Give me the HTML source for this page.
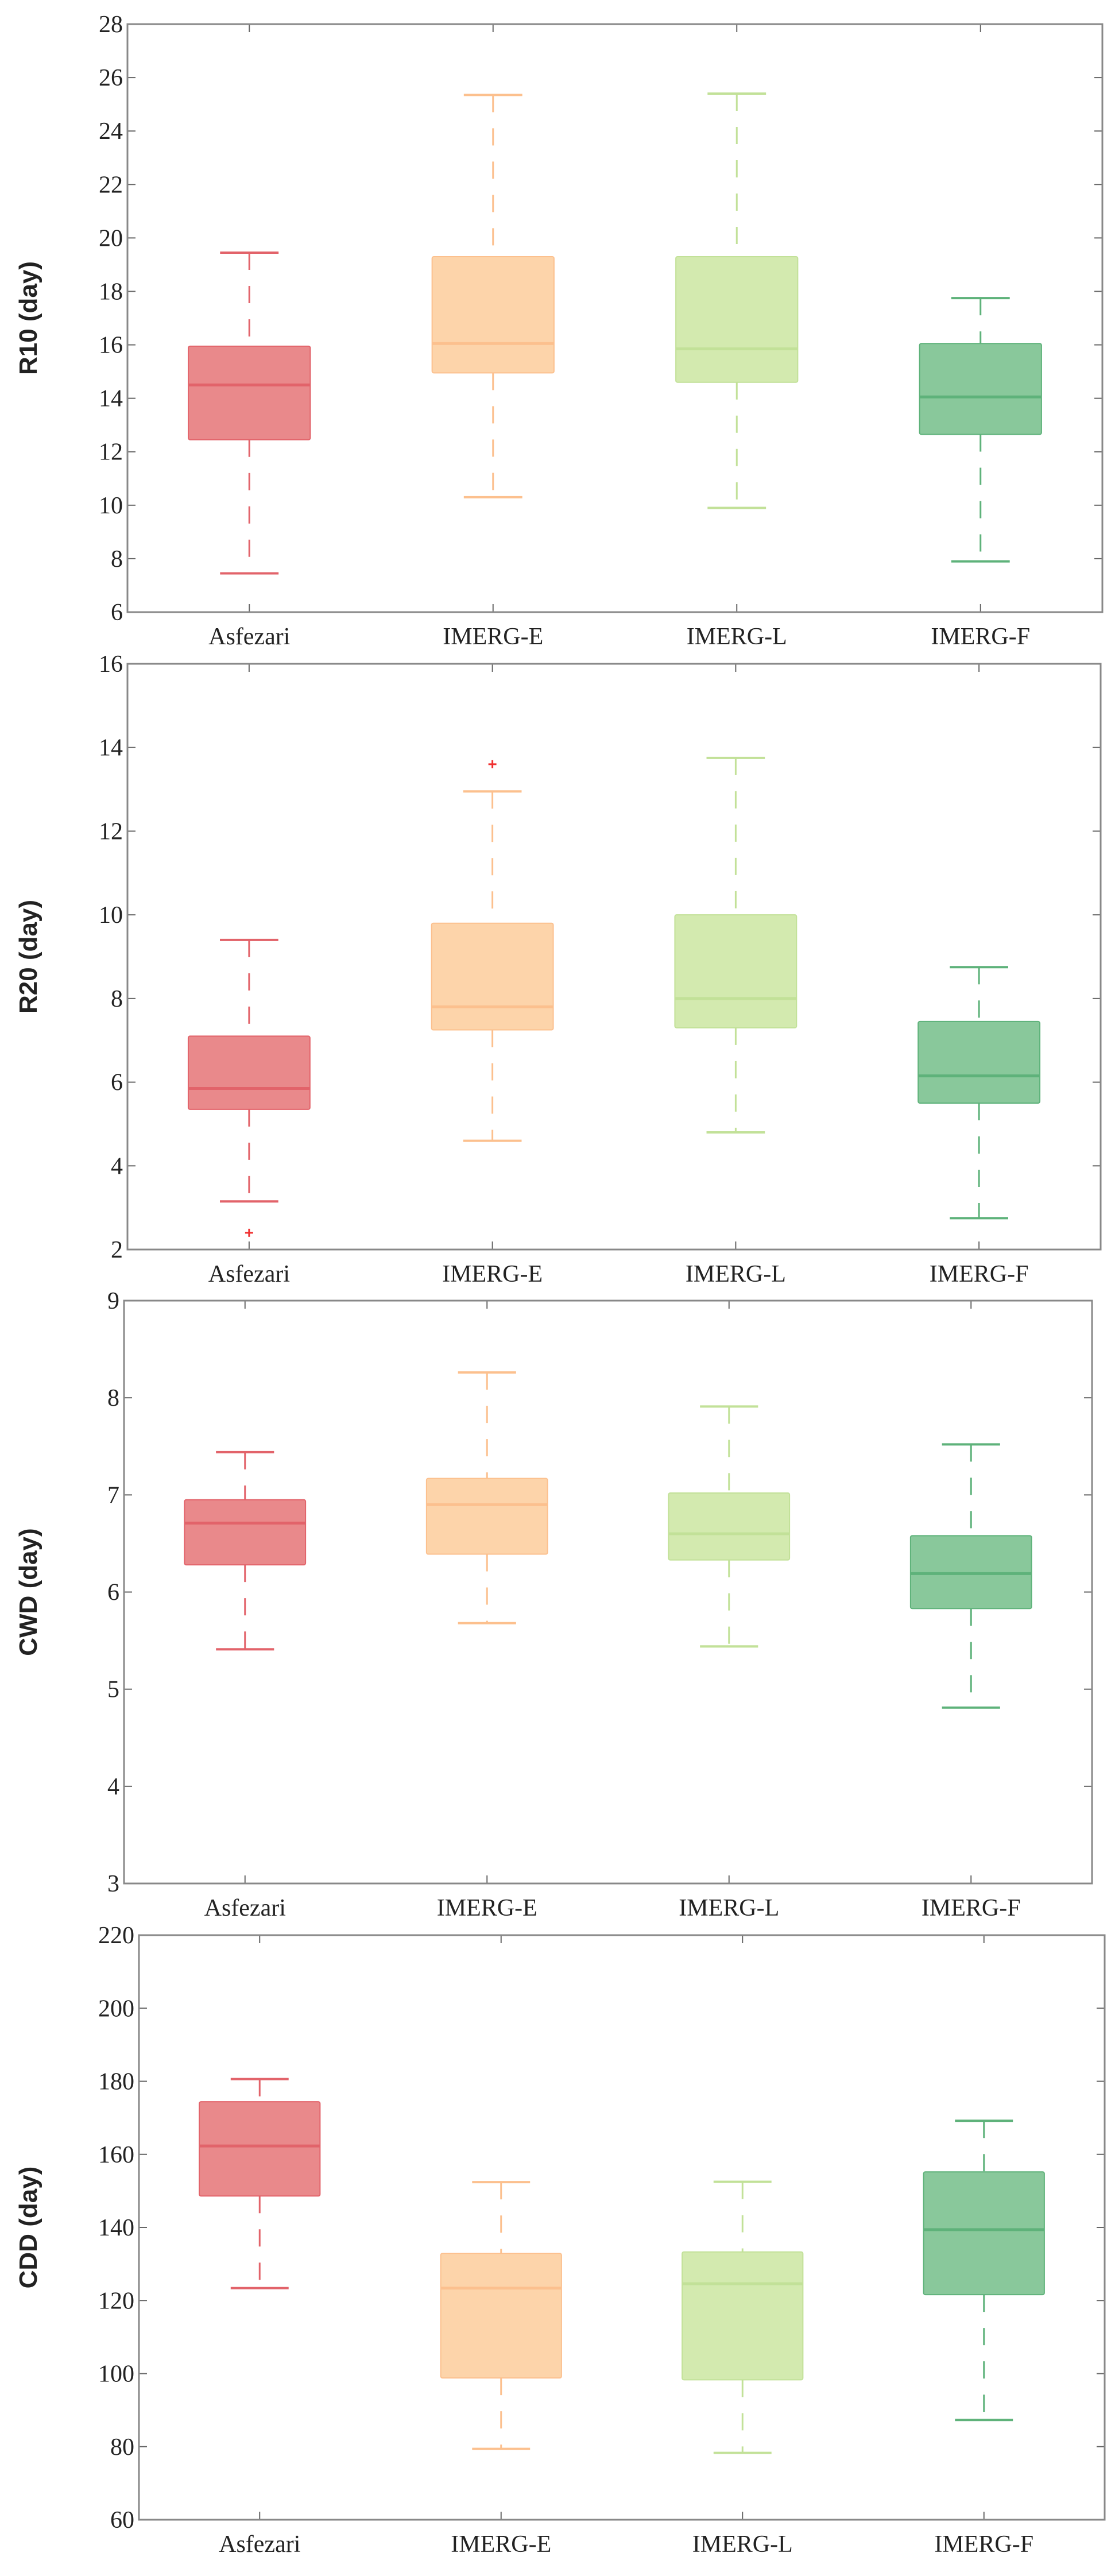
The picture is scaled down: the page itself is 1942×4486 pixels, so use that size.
<!DOCTYPE html>
<html><head><meta charset="utf-8"><style>
html,body{margin:0;padding:0;background:#fff;}
svg{display:block;}
</style></head><body>
<svg id="chart" width="1942" height="4486" xmlns="http://www.w3.org/2000/svg"></svg>
<script>
const categories = ["Asfezari","IMERG-E","IMERG-L","IMERG-F"];
const r10Stats = [[7.45,12.45,14.5,15.95,19.45],[10.3,14.95,16.05,19.3,25.35],[9.9,14.6,15.85,19.3,25.4],[7.9,12.65,14.05,16.05,17.75]];
const r20Stats = [[3.15,5.35,5.85,7.1,9.4],[4.6,7.25,7.8,9.8,12.95],[4.8,7.3,8.0,10.0,13.75],[2.75,5.5,6.15,7.45,8.75]];
const r20Outliers = [[2.4],[13.6],[],[]];
const cwdStats = [[5.41,6.28,6.71,6.95,7.44],[5.68,6.39,6.9,7.17,8.26],[5.44,6.33,6.6,7.02,7.91],[4.81,5.83,6.19,6.58,7.52]];
const cddStats = [[123.4,148.6,162.3,174.4,180.6],[79.4,98.8,123.4,132.9,152.4],[78.3,98.3,124.6,133.3,152.5],[87.3,121.6,139.4,155.2,169.2]];
const r10Ticks = [6,8,10,12,14,16,18,20,22,24,26,28];
const r20Ticks = [2,4,6,8,10,12,14,16];
const cwdTicks = [3,4,5,6,7,8,9];
const cddTicks = [60,80,100,120,140,160,180,200,220];

const fills = ["#e9898b","#fdd4aa","#d3eaaf","#89c89b"];
const lines = ["#e2636a","#fcc08e","#c2e198","#5eb27a"];
const NS="http://www.w3.org/2000/svg";
const svg=document.getElementById('chart');
function mk(tag,attrs,parent){const e=document.createElementNS(NS,tag);for(const k in attrs)e.setAttribute(k,attrs[k]);(parent||svg).appendChild(e);return e;}

const panels=[
 {key:"r10",title:"R10 (day)",stats:r10Stats,out:null,ticks:r10Ticks,L:222,R:1920,T:42,B:1066},
 {key:"r20",title:"R20 (day)",stats:r20Stats,out:r20Outliers,ticks:r20Ticks,L:222,R:1917,T:1156,B:2176},
 {key:"cwd",title:"CWD (day)",stats:cwdStats,out:null,ticks:cwdTicks,L:216,R:1902,T:2265,B:3280},
 {key:"cdd",title:"CDD (day)",stats:cddStats,out:null,ticks:cddTicks,L:242,R:1924,T:3370,B:4388}
];

panels.forEach(p=>{
 const g=mk('g',{});
 
 
 const vmin=p.ticks[0],vmax=p.ticks[p.ticks.length-1];
 const y=v=>p.B-(v-vmin)/(vmax-vmin)*(p.B-p.T);
 const step=(p.R-p.L)/4;
 const x=i=>p.L+step*(i+0.5);
 const bw=step*0.5, cw=step*0.24;
 // ticks
 p.ticks.forEach(t=>{
  const yy=y(t);
  const tl=mk('line',{x1:p.L,x2:p.L+14,y1:yy,y2:yy,stroke:'#666','stroke-width':2},g);
  
  
  mk('line',{x1:p.R,x2:p.R-14,y1:yy,y2:yy,stroke:'#666','stroke-width':2},g);
  const tx=mk('text',{x:p.L-8,y:yy+14,'text-anchor':'end','font-family':'Liberation Serif, serif','font-size':42,fill:'#222'},g);
  tx.textContent=t;
  
  
 });
 categories.forEach((c,i)=>{
  const xx=x(i);
  mk('line',{x1:xx,x2:xx,y1:p.B,y2:p.B-14,stroke:'#666','stroke-width':2},g);
  mk('line',{x1:xx,x2:xx,y1:p.T,y2:p.T+14,stroke:'#666','stroke-width':2},g);
  const lb=mk('text',{x:xx,y:p.B+56,'text-anchor':'middle','font-family':'Liberation Serif, serif','font-size':42,fill:'#222'},g);
  lb.textContent=c;
  
  
  const s=p.stats[i];
  const bg=mk('g',{},g);
  
  
  mk('line',{x1:xx,x2:xx,y1:y(s[4]),y2:y(s[3]),stroke:lines[i],'stroke-width':3,'stroke-dasharray':'30 28'},bg);
  mk('line',{x1:xx,x2:xx,y1:y(s[1]),y2:y(s[0]),stroke:lines[i],'stroke-width':3,'stroke-dasharray':'30 28'},bg);
  mk('line',{x1:xx-cw/2,x2:xx+cw/2,y1:y(s[4]),y2:y(s[4]),stroke:lines[i],'stroke-width':4},bg);
  mk('line',{x1:xx-cw/2,x2:xx+cw/2,y1:y(s[0]),y2:y(s[0]),stroke:lines[i],'stroke-width':4},bg);
  mk('rect',{x:xx-bw/2,y:y(s[3]),width:bw,height:y(s[1])-y(s[3]),fill:fills[i],stroke:lines[i],'stroke-width':2,rx:3},bg);
  mk('line',{x1:xx-bw/2,x2:xx+bw/2,y1:y(s[2]),y2:y(s[2]),stroke:lines[i],'stroke-width':5},bg);
  if(p.out){p.out[i].forEach(o=>{
   const og=mk('g',{},bg);
   
   
   mk('line',{x1:xx-7,x2:xx+7,y1:y(o),y2:y(o),stroke:'#f03030','stroke-width':3},og);
   mk('line',{x1:xx,x2:xx,y1:y(o)-7,y2:y(o)+7,stroke:'#f03030','stroke-width':3},og);
  });}
 });
 const fr=mk('rect',{x:p.L,y:p.T,width:p.R-p.L,height:p.B-p.T,fill:'none',stroke:'#888','stroke-width':3},g);
 
 
 const cy=(p.T+p.B)/2;
 const tt=mk('text',{x:0,y:0,transform:`translate(64,${cy}) rotate(-90)`,'text-anchor':'middle','font-family':'Liberation Sans, sans-serif','font-weight':'bold','font-size':44,fill:'#222'},g);
 tt.textContent=p.title;
 
 
});
</script>
</body></html>
